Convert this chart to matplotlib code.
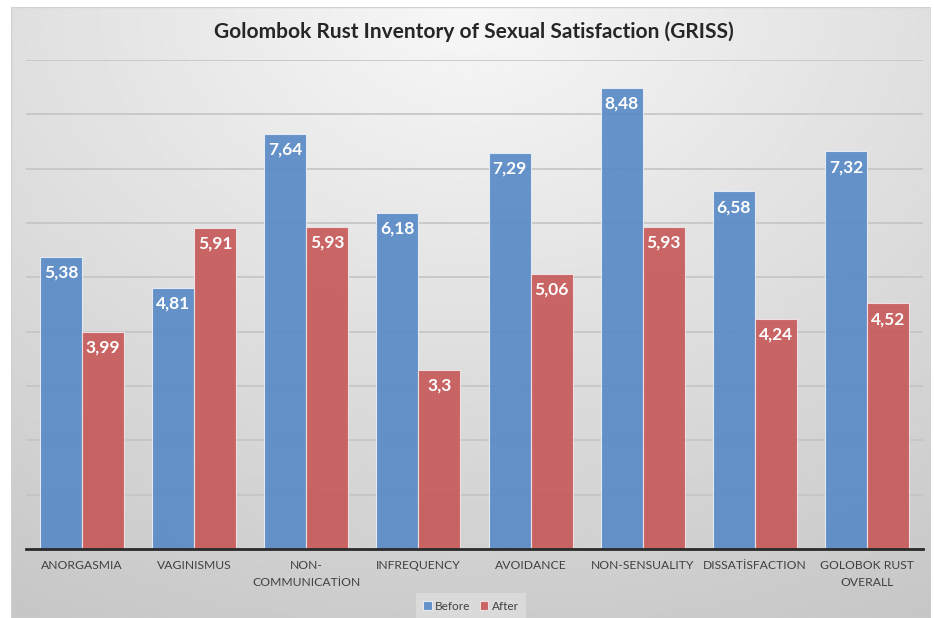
import numpy as np
import matplotlib.pyplot as plt
from matplotlib.patches import Rectangle

plt.rcParams['font.family'] = ['Lato', 'DejaVu Sans']

# datos del grafico
categorias = ["ANORGASMIA", "VAGINISMUS", "NON-\nCOMMUNICATİON", "INFREQUENCY",
              "AVOIDANCE", "NON-SENSUALITY", "DISSATİSFACTION", "GOLOBOK RUST\nOVERALL"]
antes = [5.38, 4.81, 7.64, 6.18, 7.29, 8.48, 6.58, 7.32]
despues = [3.99, 5.91, 5.93, 3.3, 5.06, 5.93, 4.24, 4.52]
series = ["Before", "After"]

azul = "#5b8bc7"
rojo = "#c85b5b"

fig = plt.figure(figsize=(9.34, 6.18), dpi=100)
fig.patch.set_facecolor("white")

# fondo con degradado del panel
fondo = fig.add_axes([11 / 934, 0, 920 / 934, 1 - 7 / 618])
fondo.set_zorder(-10)
yy, xx = np.mgrid[0:1:300j, 0:1:400j]
d = np.sqrt(((xx - 0.5) * 1.1) ** 2 + (yy * 1.0) ** 2)
grad = 0.97 - 0.17 * np.clip(d, 0, 1.2)
fondo.imshow(grad, cmap="gray", vmin=0, vmax=1, aspect="auto", extent=[0, 1, 0, 1], origin="upper")
fondo.add_patch(Rectangle((0, 0), 1, 1, fill=False, edgecolor="#d0d0d0", lw=1, transform=fondo.transAxes))
fondo.axis("off")

ax = fig.add_axes([26 / 934, 1 - 549 / 618, 897 / 934, 489 / 618])
ax.patch.set_alpha(0)
x = np.arange(len(categorias))
ancho = 0.375

ax.set_yticks(np.arange(1, 10))
ax.yaxis.grid(True, color="#c4c4c4", lw=1.2)
ax.set_axisbelow(True)

b1 = ax.bar(x - ancho / 2, antes, ancho, color=azul, edgecolor="#e8eef6", lw=0.8, alpha=0.93, label=series[0])
b2 = ax.bar(x + ancho / 2, despues, ancho, color=rojo, edgecolor="#f3e4e4", lw=0.8, alpha=0.93, label=series[1])

for barras, vals in [(b1, antes), (b2, despues)]:
    for b, v in zip(barras, vals):
        ax.text(b.get_x() + b.get_width() / 2, v - 0.29, str(v).replace(".", ","),
                ha="center", va="center", color="white", fontsize=12.5, fontweight="bold")

ax.set_xlim(-0.5, len(categorias) - 0.5)
ax.set_ylim(0, 9)
ax.set_xticks(x)
ax.set_xticklabels(categorias, fontsize=8.7, color="#404040", linespacing=1.6)
ax.tick_params(axis="x", length=0, pad=8)
ax.tick_params(axis="y", length=0, labelleft=False)
for s in ["top", "right", "left"]:
    ax.spines[s].set_visible(False)
ax.spines["bottom"].set_color("#2a2a2a")
ax.spines["bottom"].set_linewidth(2)

fig.text(474 / 934, 1 - 32 / 618, "Golombok Rust Inventory of Sexual Satisfaction (GRISS)",
         ha="center", va="center", fontsize=15, fontweight="bold", color="#262626")

leg = fig.legend(loc="center", bbox_to_anchor=(471 / 934, 1 - 606 / 618), ncol=2, fontsize=8.5,
                 frameon=True, handlelength=0.7, handleheight=0.7, handletextpad=0.3,
                 columnspacing=0.8, borderpad=0.4)
leg.get_frame().set_facecolor("#dedede")
leg.get_frame().set_edgecolor("none")
leg.get_frame().set_boxstyle("square", pad=0.2)
for t in leg.get_texts():
    t.set_color("#404040")

fig.savefig("out.png", dpi=100)
